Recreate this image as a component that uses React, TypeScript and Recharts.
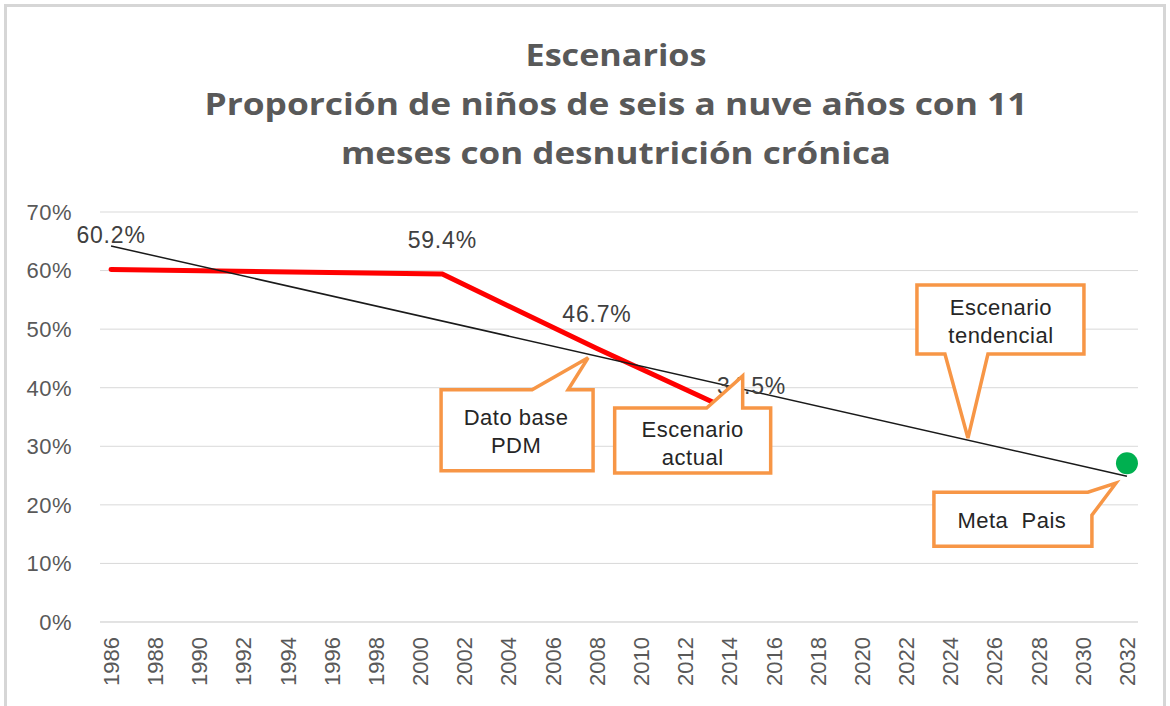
import React from 'react';
import { ComposedChart, Line, Scatter, XAxis, YAxis, CartesianGrid, ReferenceDot } from 'recharts';

const yearTicks = [1986, 1988, 1990, 1992, 1994, 1996, 1998, 2000, 2002, 2004, 2006, 2008, 2010,
  2012, 2014, 2016, 2018, 2020, 2022, 2024, 2026, 2028, 2030, 2032];
const pctTicks = [0, 10, 20, 30, 40, 50, 60, 70];

const actualYears = [1986, 2001, 2008, 2015];
const actualValues = [60.2, 59.4, 46.7, 34.5];
const trendYears = [1986, 2032];
const trendValues = [64.2, 24.9];
const goalYears = [2032];
const goalValues = [27.1];

const calloutTexts = [['Dato base', 'PDM'], ['Escenario', 'actual'], ['Escenario', 'tendencial'], ['Meta  Pais']];
const calloutYears = [2007.6, 2014.6, 2024.8, 2031.5];
const calloutValues = [45.1, 42.0, 31.4, 23.7];

const titleLines = ['Escenarios', 'Proporción de niños de seis a nuve años con 11', 'meses con desnutrición crónica'];
const titleWidths = [181, 823, 550];

const actualData = actualYears.map((year, i) => ({ year, value: actualValues[i] }));
const trendData = trendYears.map((year, i) => ({ year, value: trendValues[i] }));
const goalData = goalYears.map((year, i) => ({ year, value: goalValues[i] }));

// callout outlines, relative to the pointer tip (px)
const calloutShapes = [
  { pts: [[-147, 32], [-56, 32], [0, 0], [-20, 32], [5, 32], [5, 113], [-147, 113]], tx: -72, ty: [67, 95] },
  { pts: [[-128, 32], [-36, 32], [0, 0], [0, 32], [28, 32], [28, 97], [-128, 97]], tx: -50, ty: [61, 89] },
  { pts: [[-51, -153], [116, -153], [116, -84], [20, -84], [0, 0], [-23, -84], [-51, -84]], tx: 33, ty: [-123, -95] },
  { pts: [[-182, 9], [-28, 9], [0, 0], [-24, 32], [-24, 63], [-182, 63]], tx: -104, ty: [45] },
];

const FONT = '"Liberation Sans", Arial, sans-serif';

function YearTick({ x, y, payload }: any) {
  const ty = y + 15;
  return (
    <text x={x} y={ty} dy="0.36em" transform={`rotate(-90, ${x}, ${ty})`} textAnchor="end"
      fontFamily={FONT} fontSize={22} fill="#595959">
      {payload.value}
    </text>
  );
}

function PctTick({ x, y, payload }: any) {
  return (
    <text x={x} y={y} dy="0.36em" textAnchor="end" fontFamily={FONT} fontSize={22} fill="#595959"
      letterSpacing={0.5}>
      {payload.value}%
    </text>
  );
}

function ValueLabel(props: any) {
  const { cx, cy, payload, index } = props;
  return (
    <text key={`lbl-${index}`} x={cx} y={cy - 26} textAnchor="middle" fontFamily={FONT} fontSize={23}
      fill="#404040" letterSpacing={0.8}>
      {payload.value.toFixed(1)}%
    </text>
  );
}

function makeCallout(i: number) {
  return (props: any) => {
    const { cx, cy } = props;
    const s = calloutShapes[i];
    const d = s.pts.map((p, k) => `${k === 0 ? 'M' : 'L'}${cx + p[0]},${cy + p[1]}`).join(' ') + ' Z';
    return (
      <g>
        <path d={d} fill="#ffffff" stroke="#f79646" strokeWidth={3.5} strokeLinejoin="miter" />
        {calloutTexts[i].map((t, k) => (
          <text key={k} x={cx + s.tx} y={cy + s.ty[k]} textAnchor="middle" fontFamily={FONT}
            fontSize={22} fill="#262626" letterSpacing={0.5} style={{ whiteSpace: 'pre' }}>
            {t}
          </text>
        ))}
      </g>
    );
  };
}

export default function App() {
  return (
    <div style={{ position: 'absolute', left: 0, top: 0, width: 1170, height: 706, overflow: 'hidden', background: '#fff' }}>
      <div style={{ position: 'absolute', left: 4, top: 4, width: 1162, height: 760, border: '3px solid #d6d6d6', boxSizing: 'border-box' }} />
      <svg width={1170} height={200} style={{ position: 'absolute', left: 0, top: 0 }}>
        {titleLines.map((t, i) => (
          <text key={i} x={616} y={66 + i * 49} textAnchor="middle" fontFamily="'Open Sans', Lato, sans-serif"
            fontWeight={700} fontSize={31} fill="#595959" textLength={titleWidths[i]} lengthAdjust="spacingAndGlyphs">
            {t}
          </text>
        ))}
      </svg>
      <div style={{ position: 'absolute', left: 0, top: 0 }}>
        <ComposedChart width={1170} height={706} margin={{ top: 212, right: 32, bottom: 0, left: 0 }}>
          <CartesianGrid vertical={false} stroke="#d9d9d9" />
          <XAxis dataKey="year" type="number" domain={[1985.5, 2032.5]} ticks={yearTicks} interval={0}
            height={84} tickSize={0} tickMargin={0} tickLine={false}
            axisLine={{ stroke: '#d9d9d9' }} tick={<YearTick />} />
          <YAxis type="number" domain={[0, 70]} ticks={pctTicks} width={100} tickSize={0} tickMargin={28}
            tickLine={false} axisLine={false} tick={<PctTick />} />
          <Line data={actualData} dataKey="value" type="linear" stroke="#ff0000" strokeWidth={5}
            strokeLinecap="round" dot={ValueLabel} activeDot={false} isAnimationActive={false} />
          <Line data={trendData} dataKey="value" type="linear" stroke="#1a1a1a" strokeWidth={1.5}
            dot={false} activeDot={false} isAnimationActive={false} />
          <Scatter data={goalData} dataKey="value" fill="#00b050" isAnimationActive={false}
            shape={(p: any) => <circle cx={p.cx} cy={p.cy} r={11} fill="#00b050" />} />
          {calloutYears.map((yr, i) => (
            <ReferenceDot key={i} x={yr} y={calloutValues[i]} r={1} zIndex={2500} shape={makeCallout(i)} />
          ))}
        </ComposedChart>
      </div>
    </div>
  );
}
